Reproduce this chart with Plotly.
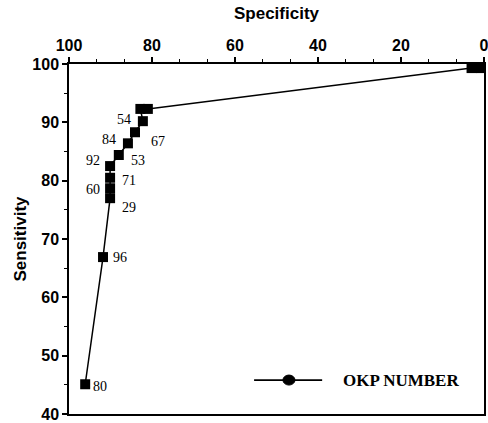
import plotly.graph_objects as go

# Data (specificity on x, sensitivity on y)
specificity = [96.1, 91.8, 90.1, 90.1, 90.1, 90.1, 88.0, 85.8, 84.1, 82.2, 82.8, 81.0, 3.0, 0.8]
sensitivity = [45.1, 66.9, 77.0, 78.7, 80.5, 82.5, 84.4, 86.4, 88.3, 90.2, 92.3, 92.3, 99.3, 99.3]
point_labels = ["80", "96", "29", "60", "71", "92", "53", "84", "67", "54", "", "", "", ""]
# label placement (side, xshift px, yshift px)
label_side = ["right", "right", "right", "left", "right", "left", "right", "left", "right", "left", "", "", "", ""]
label_dx = [6, 8, 10, -8, 10, -8, 10, -10, 14, -10, 0, 0, 0, 0]
label_dy = [-2, 0, -9, -1, -3, 6, -5, 4, -9, 2, 0, 0, 0, 0]

x_ticks = [100, 80, 60, 40, 20, 0]
y_ticks = [100, 90, 80, 70, 60, 50, 40]
legend_name = "OKP NUMBER"

fig = go.Figure()
fig.add_trace(go.Scatter(
    x=specificity, y=sensitivity, mode="lines+markers",
    line=dict(color="black", width=1.5),
    marker=dict(symbol="square", size=10, color="black"),
    cliponaxis=True, showlegend=False, name=legend_name,
))

for x, y, t, s, dx, dy in zip(specificity, sensitivity, point_labels, label_side, label_dx, label_dy):
    if not t:
        continue
    fig.add_annotation(
        x=x, y=y, text=t, showarrow=False,
        xanchor="left" if s == "right" else "right",
        xshift=dx, yshift=dy,
        font=dict(family="Liberation Serif", size=14, color="black"),
    )

# Legend drawn as line + circle + label
fig.add_shape(type="line", xref="paper", yref="paper", x0=0.446, x1=0.610, y0=0.097, y1=0.097,
              line=dict(color="black", width=1.8))
fig.add_shape(type="circle", xref="paper", yref="paper", xsizemode="pixel", ysizemode="pixel",
              xanchor=0.53, yanchor=0.097, x0=-6, x1=6, y0=-5, y1=5,
              fillcolor="black", line=dict(color="black", width=1))
fig.add_annotation(xref="paper", yref="paper", x=0.655, y=0.097, xanchor="left", yanchor="middle",
                   text="<b>" + legend_name + "</b>", showarrow=False,
                   font=dict(family="Liberation Serif", size=17, color="black"))

fig.update_xaxes(
    range=[100, 0], side="top", tickvals=x_ticks, ticktext=[str(v) for v in x_ticks],
    showline=True, linecolor="black", linewidth=1.5, mirror=True,
    ticks="outside", ticklen=5, tickwidth=1.5, tickcolor="black",
    minor=dict(dtick=20 / 3, tick0=0, ticks="outside", ticklen=3, tickcolor="black", tickwidth=1),
    showgrid=False, zeroline=False, automargin=False, ticklabeloverflow="allow",
    tickfont=dict(family="Liberation Sans", size=16, color="black", weight="bold"),
    title=dict(text="Specificity", standoff=13,
               font=dict(family="Liberation Sans", size=17, color="black", weight="bold")),
)
fig.update_yaxes(
    range=[40, 100], tickvals=y_ticks, ticktext=[str(v) for v in y_ticks],
    showline=True, linecolor="black", linewidth=1.5, mirror=True,
    ticks="outside", ticklen=5, tickwidth=1.5, tickcolor="black",
    minor=dict(dtick=5, ticks="outside", ticklen=3, tickcolor="black", tickwidth=1),
    showgrid=False, zeroline=False, automargin=False, ticklabeloverflow="allow",
    tickfont=dict(family="Liberation Sans", size=16, color="black", weight="bold"),
    title=dict(text="Sensitivity", standoff=1,
               font=dict(family="Liberation Sans", size=17, color="black", weight="bold")),
)

fig.update_layout(
    width=488, height=423,
    margin=dict(l=69, r=4, t=64, b=9),
    plot_bgcolor="white", paper_bgcolor="white",
    showlegend=False,
)

fig.write_html("out.html", config={"displayModeBar": False},
               post_script="document.body.style.margin='0';document.body.style.overflow='hidden';")
